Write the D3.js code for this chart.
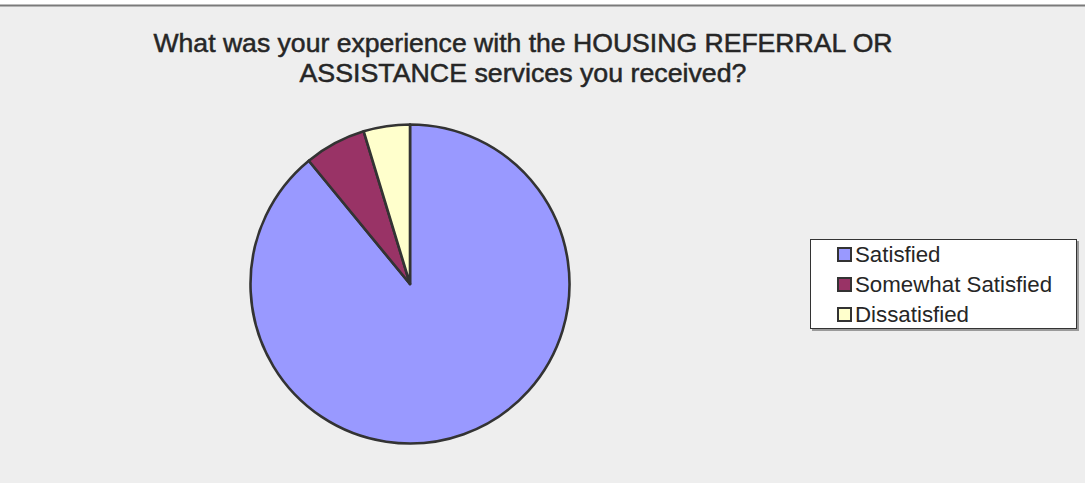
<!DOCTYPE html>
<html>
<head>
<meta charset="utf-8">
<script src="https://cdn.jsdelivr.net/npm/d3@7"></script>
<style>
  html, body { margin: 0; padding: 0; background: #ffffff; }
  svg { display: block; }
  text { font-family: "Liberation Sans", Arial, sans-serif; fill: #262626; }
</style>
</head>
<body>
<svg id="chart" width="1085" height="483"></svg>
<script>
// Survey responses: housing referral / assistance experience
const categories = ["Satisfied", "Somewhat Satisfied", "Dissatisfied"];
const responses = [57, 4, 3];
const sliceColors = ["#9999ff", "#993366", "#ffffcc"];
const titleLines = [
  "What was your experience with the HOUSING REFERRAL OR",
  "ASSISTANCE services you received?"
];

const W = 1085, H = 483;
const svg = d3.select("#chart");

// chart area background and top rule
svg.append("rect").attr("x", 0).attr("y", 6).attr("width", W).attr("height", H - 6).attr("fill", "#eeeeee");
svg.append("line").attr("x1", 0).attr("x2", W).attr("y1", 5.5).attr("y2", 5.5)
  .attr("stroke", "#7a7a7a").attr("stroke-width", 2);

// title
const title = svg.append("g");
const titleWidths = [739, 447];
titleLines.forEach((t, i) => {
  title.append("text")
    .attr("x", 523)
    .attr("y", 52 + i * 29.5)
    .attr("text-anchor", "middle")
    .attr("font-size", 26)
    .attr("textLength", titleWidths[i])
    .attr("lengthAdjust", "spacingAndGlyphs")
    .style("stroke", "#262626").style("stroke-width", 0.5)
    .text(t);
});

// pie
const cx = 410, cy = 284, radius = 159.5;
const color = d3.scaleOrdinal().domain(categories).range(sliceColors);
const pie = d3.pie().sort(null).value(d => d.value);
const arc = d3.arc().innerRadius(0).outerRadius(radius);
const data = categories.map((c, i) => ({ key: c, value: responses[i] }));

svg.append("g")
  .attr("transform", `translate(${cx},${cy})`)
  .selectAll("path")
  .data(pie(data))
  .join("path")
  .attr("d", arc)
  .attr("fill", d => color(d.data.key))
  .attr("stroke", "#333333")
  .attr("stroke-width", 2.6)
  .attr("stroke-linejoin", "round");

// legend
const lg = svg.append("g");
const lx = 810, ly = 239, lw = 267, lh = 90;
lg.append("rect").attr("x", lx + 2).attr("y", ly + 2).attr("width", lw).attr("height", lh).attr("fill", "#9a9a9a");
lg.append("rect").attr("x", lx + 0.5).attr("y", ly + 0.5).attr("width", lw - 1).attr("height", lh - 1)
  .attr("fill", "#ffffff").attr("stroke", "#333333").attr("stroke-width", 1);

const rowY = d3.scalePoint().domain(categories).range([254.5, 314.5]);
const items = lg.selectAll("g.item").data(categories).join("g").attr("class", "item");
items.append("rect")
  .attr("x", 838).attr("y", d => rowY(d) - 6.5)
  .attr("width", 13).attr("height", 13)
  .attr("fill", d => color(d))
  .attr("stroke", "#333333").attr("stroke-width", 2);
items.append("text")
  .attr("x", 855).attr("y", d => rowY(d) + 7.5)
  .attr("font-size", 22.3)
  .text(d => d);
</script>
</body>
</html>
